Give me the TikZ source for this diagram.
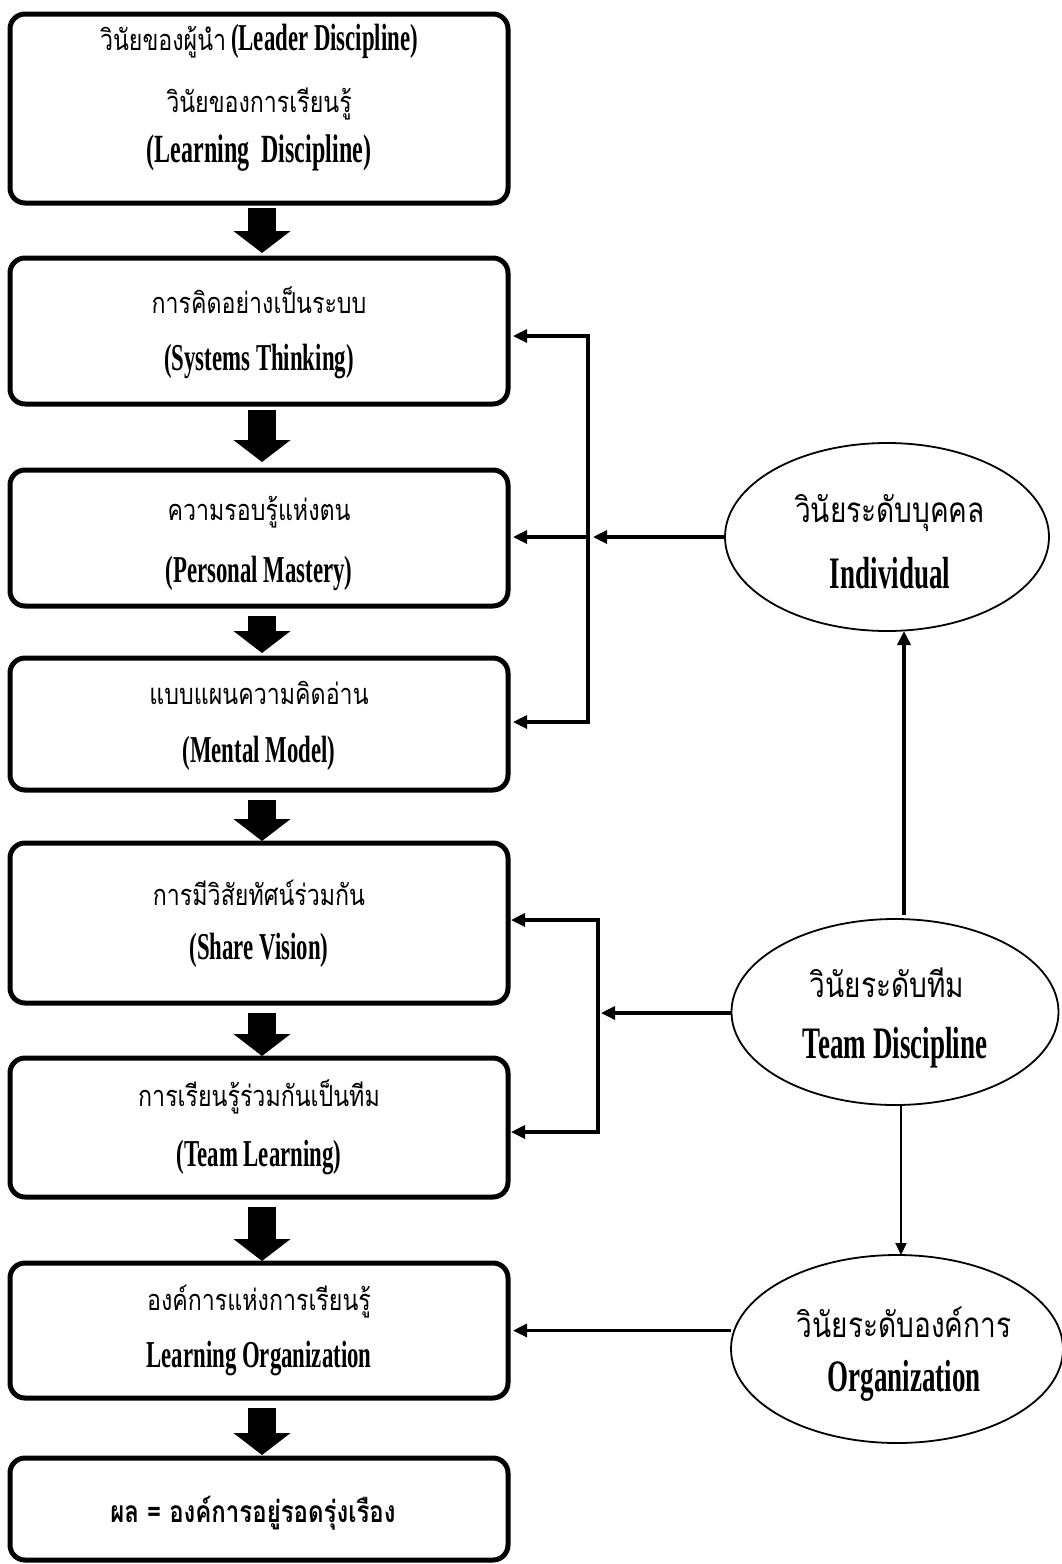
\documentclass[tikz,border=0pt]{standalone}
\usepackage{fontspec}
\setmainfont{Liberation Serif}
\newfontfamily\thaifont[Script=Thai,FakeStretch=0.8]{Loma}
\newfontfamily\engfont[FakeStretch=0.6]{Liberation Serif}
\usetikzlibrary{arrows.meta,shapes.geometric}
\newcommand\thtxt[1]{{\thaifont\fontsize{14.5}{17}\selectfont #1}}
\newcommand\entxt[1]{{\engfont\bfseries\fontsize{19}{22}\selectfont #1}}
\begin{document}
\begin{tikzpicture}[x=0.5pt,y=-0.5pt,
  box/.style={draw, line width=2.5pt, rounded corners=7.5pt, minimum width=249pt, inner sep=0pt, outer sep=0pt},
  oval/.style={draw, ellipse, line width=0.9pt, inner sep=0pt, outer sep=0pt},
  txt/.style={inner sep=0pt, anchor=center},
  thbig/.style={txt, font=\thaifont\fontsize{17.5}{20}\selectfont},
  enbig/.style={txt, font=\engfont\bfseries\fontsize{22.5}{26}\selectfont},
  blk/.style={line width=14pt, -{Triangle[length=11pt,width=28pt]}},
  arr/.style={line width=1.6pt, -{Triangle[length=7pt,width=6.5pt]}},
  arrthin/.style={line width=1pt, -{Triangle[length=6pt,width=5.5pt]}},
  ln/.style={line width=1.5pt}]
\useasboundingbox (0,0) rectangle (1061,1564);

% left column boxes
\node[box, minimum height=94.5pt] (b1) at (259,108.5) {};
\node[box, minimum height=73pt]   (b2) at (259,331) {};
\node[box, minimum height=68pt]   (b3) at (259,538) {};
\node[box, minimum height=66pt]   (b4) at (259,724) {};
\node[box, minimum height=80pt]   (b5) at (259,923) {};
\node[box, minimum height=69.5pt] (b6) at (259,1127.5) {};
\node[box, minimum height=67.5pt] (b7) at (259,1330.5) {};
\node[box, minimum height=51pt]   (b8) at (259,1509) {};

% box texts
\node[txt] (t1a) at (259,41)  {\thtxt{วินัยของผู้นำ} \entxt{(Leader Discipline)}};
\node[txt] (t1b) at (259,104) {\thtxt{วินัยของการเรียนรู้}};
\node[txt] (t1c) at (259,153) {{\engfont\bfseries\fontsize{20}{22}\selectfont (Learning\ \ Discipline)}};
\node[txt] (t2a) at (259,300) {\thtxt{การคิดอย่างเป็นระบบ}};
\node[txt] (t2b) at (259,362) {\entxt{(Systems Thinking)}};
\node[txt] (t3a) at (259,512) {\thtxt{ความรอบรู้แห่งตน}};
\node[txt] (t3b) at (259,573) {\entxt{(Personal Mastery)}};
\node[txt] (t4a) at (259,693) {\thtxt{แบบแผนความคิดอ่าน}};
\node[txt] (t4b) at (259,753) {\entxt{(Mental Model)}};
\node[txt] (t5a) at (259,893) {\thtxt{การมีวิสัยทัศน์ร่วมกัน}};
\node[txt] (t5b) at (259,950) {\entxt{(Share Vision)}};
\node[txt] (t6a) at (259,1097) {\thtxt{การเรียนรู้ร่วมกันเป็นทีม}};
\node[txt] (t6b) at (259,1157) {\entxt{(Team Learning)}};
\node[txt] (t7a) at (259,1302) {\thtxt{องค์การแห่งการเรียนรู้}};
\node[txt] (t7b) at (259,1358) {\entxt{Learning Organization}};
\node[txt] (t8)  at (253,1513) {{\thaifont\bfseries\fontsize{15}{18}\selectfont ผล = องค์การอยู่รอดรุ่งเรือง}};

% block arrows
\draw[blk] ([xshift=1.5pt,yshift=-2.5pt]b1.south) -- ([xshift=1.5pt,yshift=2.5pt]b2.north);
\draw[blk] ([xshift=1.5pt,yshift=-3pt]b2.south) -- ([xshift=1.5pt,yshift=4pt]b3.north);
\draw[blk] ([xshift=1.5pt,yshift=-5pt]b3.south) -- ([xshift=1.5pt,yshift=2.5pt]b4.north);
\draw[blk] ([xshift=1.5pt,yshift=-5pt]b4.south) -- ([xshift=1.5pt,yshift=1pt]b5.north);
\draw[blk] ([xshift=1.5pt,yshift=-5pt]b5.south) -- ([xshift=1.5pt,yshift=1pt]b6.north);
\draw[blk] ([xshift=1.5pt,yshift=-5pt]b6.south) -- ([xshift=1.5pt,yshift=1pt]b7.north);
\draw[blk] ([xshift=1.5pt,yshift=-5pt]b7.south) -- ([xshift=1.5pt,yshift=1.5pt]b8.north);

% ellipses
\node[oval, minimum width=162pt, minimum height=94pt] (ind)  at (887,537) {};
\node[oval, minimum width=163.5pt, minimum height=93pt] (team) at (895,1012) {};
\node[oval, minimum width=166pt, minimum height=94pt] (org)  at (897,1349) {};
\node[thbig] (indth)  at (890,513)  {วินัยระดับบุคคล};
\node[enbig] (inden)  at (890,573)  {Individual};
\node[thbig] (teamth) at (887,983)  {วินัยระดับทีม};
\node[enbig] (teamen) at (895,1048) {Team Discipline};
\node[thbig] (orgth)  at (904,1322) {วินัยระดับองค์การ};
\node[enbig] (orgen)  at (904,1381) {Organization};

% bracket 1 (individual)
\coordinate (k1t) at (588,336);
\coordinate (k1m) at (588,537);
\coordinate (k1b) at (588,722);
\draw[arr, shorten >=2.5pt] (k1m) -- (k1t) -- (b2.east |- k1t);
\draw[arr, shorten >=2.5pt] (k1m) -- (k1b) -- (b4.east |- k1b);
\draw[arr, shorten >=2.5pt] (k1m) -- (b3.east |- k1m);
\draw[arr, shorten >=2.5pt] (ind.west) -- (k1m);

% bracket 2 (team)
\coordinate (k2t) at (598,920);
\coordinate (k2m) at (598,1013);
\coordinate (k2b) at (598,1132);
\draw[arr, shorten >=1.5pt] (k2m) -- (k2t) -- (b5.east |- k2t);
\draw[arr, shorten >=1.5pt] (k2m) -- (k2b) -- (b6.east |- k2b);
\draw[arr, shorten >=1.5pt] (team.west |- k2m) -- (k2m);

% organization
\draw[arr, shorten >=2.5pt] (org.west |- b7.east) -- (b7.east);

% vertical links
\coordinate (v1) at (904,0);
\coordinate (v2) at (901,0);
\draw[arr, line width=1.8pt] ([yshift=2pt]team.north -| v1) -- (ind.south -| v1);
\draw[arrthin] (team.south -| v2) -- (org.north -| v2);
\end{tikzpicture}
\end{document}
